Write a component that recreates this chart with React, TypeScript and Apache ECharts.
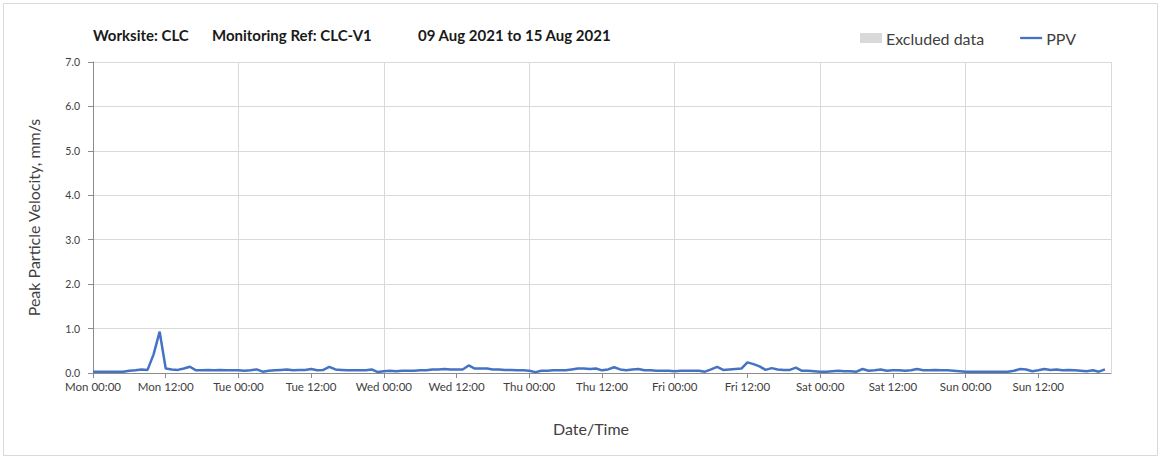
import React, { useEffect, useRef } from "react";
import * as echarts from "echarts";

const dayNames = ["Mon", "Tue", "Wed", "Thu", "Fri", "Sat", "Sun", "Mon"];

// Hourly PPV readings (mm/s), Mon 00:00 .. Sun 23:00
const ppvMon = [0.03, 0.03, 0.03, 0.03, 0.03, 0.03, 0.05, 0.06, 0.08, 0.07, 0.42, 0.93, 0.1, 0.08, 0.07, 0.1, 0.14, 0.06, 0.06, 0.07, 0.06, 0.07, 0.06, 0.06];
const ppvTue = [0.06, 0.05, 0.06, 0.08, 0.03, 0.05, 0.06, 0.07, 0.08, 0.06, 0.07, 0.07, 0.09, 0.06, 0.07, 0.14, 0.08, 0.07, 0.06, 0.06, 0.06, 0.06, 0.08, 0.02];
const ppvWed = [0.04, 0.05, 0.04, 0.05, 0.05, 0.05, 0.06, 0.06, 0.08, 0.08, 0.09, 0.08, 0.08, 0.08, 0.17, 0.1, 0.1, 0.1, 0.08, 0.08, 0.07, 0.07, 0.06, 0.06];
const ppvThu = [0.05, 0.02, 0.05, 0.05, 0.06, 0.06, 0.06, 0.08, 0.1, 0.1, 0.09, 0.1, 0.06, 0.08, 0.13, 0.08, 0.06, 0.08, 0.09, 0.06, 0.06, 0.05, 0.05, 0.05];
const ppvFri = [0.04, 0.05, 0.05, 0.05, 0.05, 0.03, 0.08, 0.14, 0.07, 0.08, 0.09, 0.1, 0.24, 0.2, 0.15, 0.07, 0.11, 0.08, 0.07, 0.07, 0.12, 0.05, 0.05, 0.04];
const ppvSat = [0.03, 0.03, 0.04, 0.05, 0.04, 0.04, 0.03, 0.09, 0.05, 0.06, 0.08, 0.05, 0.06, 0.06, 0.05, 0.06, 0.09, 0.06, 0.06, 0.07, 0.06, 0.06, 0.05, 0.04];
const ppvSun = [0.03, 0.03, 0.03, 0.03, 0.03, 0.03, 0.03, 0.03, 0.05, 0.09, 0.08, 0.04, 0.06, 0.09, 0.07, 0.08, 0.06, 0.07, 0.06, 0.05, 0.04, 0.06, 0.03, 0.08];

const ppvValues = [...ppvMon, ...ppvTue, ...ppvWed, ...ppvThu, ...ppvFri, ...ppvSat, ...ppvSun];
const yTicks = [0, 1, 2, 3, 4, 5, 6, 7];

const FONT = "Lato";

export default function App() {
  const ref = useRef<HTMLDivElement>(null);
  useEffect(() => {
    if (!ref.current) return;
    const chart = echarts.init(ref.current, undefined, { renderer: "svg" });
    const data = ppvValues.map((v, i) => [i, v]);
    chart.setOption({
      animation: false,
      backgroundColor: "#ffffff",
      textStyle: { fontFamily: FONT },
      graphic: [
        {
          type: "rect",
          shape: { x: 3.5, y: 3.5, width: 1154, height: 452 },
          style: { fill: "none", stroke: "#d9d9d9", lineWidth: 1 },
          silent: true,
        },
        {
          type: "text",
          left: 93,
          top: 27,
          style: { text: "Worksite: CLC", font: `bold 15px ${FONT}`, fill: "#1a1a1a" },
        },
        {
          type: "text",
          left: 212,
          top: 27,
          style: { text: "Monitoring Ref: CLC-V1", font: `bold 15px ${FONT}`, fill: "#1a1a1a" },
        },
        {
          type: "text",
          left: 418,
          top: 27,
          style: { text: "09 Aug 2021 to 15 Aug 2021", font: `bold 15px ${FONT}`, fill: "#1a1a1a" },
        },
      ],
      legend: {
        left: 855,
        top: 25,
        itemWidth: 22,
        itemHeight: 10,
        itemGap: 36,
        textStyle: { fontSize: 16, color: "#404040", fontFamily: FONT, padding: [0, 0, 0, -1] },
        data: [
          { name: "Excluded data", icon: "rect" },
          { name: "PPV", icon: "path://M0 0H24V2.5H0Z" },
        ],
      },
      grid: { left: 93, right: 52, top: 62, bottom: 88 },
      xAxis: [
        {
          type: "value",
          min: 0,
          max: 168,
          interval: 12,
          name: "Date/Time",
          nameLocation: "middle",
          nameGap: 47,
          nameTextStyle: { fontSize: 16, color: "#404040", fontFamily: FONT, padding: [0, 22, 0, 0] },
          axisLine: { show: true, lineStyle: { color: "#8c8c8c", width: 1 } },
          axisTick: { show: true, length: 5, lineStyle: { color: "#8c8c8c" } },
          axisLabel: {
            showMaxLabel: false,
            fontSize: 11.5,
            color: "#404040",
            margin: 7,
            formatter: (v: number) => `${dayNames[Math.floor(v / 24)]} ${v % 24 === 0 ? "00:00" : "12:00"}`,
          },
          splitLine: { show: false },
        },
        {
          type: "value",
          position: "bottom",
          min: 0,
          max: 168,
          interval: 24,
          axisLine: { show: false },
          axisTick: { show: false },
          axisLabel: { show: false },
          splitLine: { show: true, lineStyle: { color: "#d9d9d9", width: 1 } },
        },
      ],
      yAxis: {
        type: "value",
        min: yTicks[0],
        max: yTicks[yTicks.length - 1],
        interval: 1,
        name: "Peak Particle Velocity, mm/s",
        nameLocation: "middle",
        nameGap: 52,
        nameTextStyle: { fontSize: 16, color: "#404040", fontFamily: FONT },
        axisLine: { show: true, lineStyle: { color: "#8c8c8c", width: 1 } },
        axisTick: { show: true, length: 5, lineStyle: { color: "#8c8c8c" } },
        axisLabel: { fontSize: 10.5, color: "#404040", margin: 13, formatter: (v: number) => v.toFixed(1) },
        splitLine: { show: true, lineStyle: { color: "#d9d9d9", width: 1 } },
      },
      series: [
        {
          name: "Excluded data",
          type: "line",
          data: [],
          color: "#d9d9d9",
        },
        {
          name: "PPV",
          type: "line",
          data,
          color: "#4472c4",
          showSymbol: false,
          symbol: "none",
          lineStyle: { color: "#4472c4", width: 2.5 },
          z: 5,
        },
      ],
    });
    return () => chart.dispose();
  }, []);
  return (
    <div
      ref={ref}
      style={{ position: "absolute", left: 0, top: 0, width: 1163, height: 461 }}
    />
  );
}
